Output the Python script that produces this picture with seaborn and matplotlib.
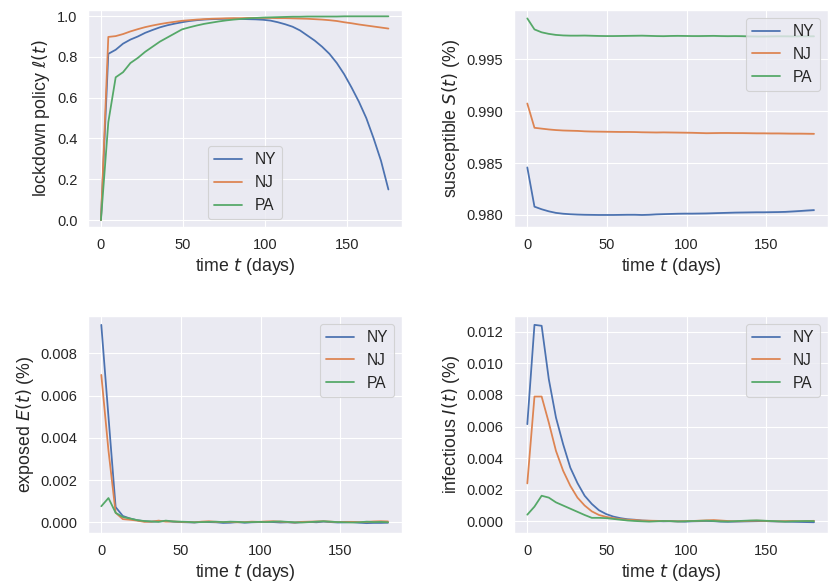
import matplotlib
matplotlib.use("Agg")
import matplotlib.pyplot as plt
import seaborn as sns
import pandas as pd

# ---------------- data ----------------
states = ["NY", "NJ", "PA"]

t_policy = [0, 4.5, 9, 13.5, 18, 22.5, 27, 31.5, 36, 40.5, 45, 49.5, 54, 58.5, 63,
            67.5, 72, 76.5, 81, 85.5, 90, 94.5, 99, 103.5, 108, 112.5, 117, 121.5,
            126, 130.5, 135, 139.5, 144, 148.5, 153, 157.5, 162, 166.5, 171, 175.5]

t_state = [0, 4.5, 9, 13.5, 18, 22.5, 27, 31.5, 36, 40.5, 45, 49.5, 54, 58.5, 63,
           67.5, 72, 76.5, 81, 85.5, 90, 94.5, 99, 103.5, 108, 112.5, 117, 121.5,
           126, 130.5, 135, 139.5, 144, 148.5, 153, 157.5, 162, 166.5, 171, 175.5, 180]

policy_NY = [0.0, 0.815, 0.835, 0.865, 0.885, 0.90, 0.918, 0.932, 0.945, 0.955, 0.963,
             0.970, 0.976, 0.980, 0.983, 0.985, 0.986, 0.987, 0.987, 0.986, 0.985, 0.984,
             0.982, 0.978, 0.970, 0.960, 0.948, 0.930, 0.905, 0.880, 0.850, 0.815, 0.770,
             0.715, 0.650, 0.580, 0.500, 0.400, 0.290, 0.150]
policy_NJ = [0.0, 0.898, 0.902, 0.912, 0.925, 0.936, 0.946, 0.954, 0.961, 0.967, 0.972,
             0.977, 0.980, 0.983, 0.985, 0.987, 0.988, 0.989, 0.990, 0.990, 0.991, 0.991,
             0.991, 0.991, 0.990, 0.990, 0.989, 0.988, 0.987, 0.985, 0.983, 0.980, 0.976,
             0.970, 0.965, 0.959, 0.954, 0.949, 0.944, 0.939]
policy_PA = [0.0, 0.48, 0.70, 0.725, 0.77, 0.795, 0.825, 0.85, 0.875, 0.895, 0.915,
             0.935, 0.945, 0.954, 0.962, 0.968, 0.974, 0.979, 0.983, 0.986, 0.989, 0.991,
             0.993, 0.994, 0.995, 0.996, 0.997, 0.997, 0.998, 0.998, 0.998, 0.998, 0.998,
             0.999, 0.999, 0.999, 0.999, 0.999, 0.999, 0.999]

S_NY = [0.98458, 0.98080, 0.98055, 0.98035, 0.98020, 0.98012, 0.98007, 0.98004, 0.98002,
        0.98001, 0.98000, 0.98000, 0.98000, 0.98001, 0.98002, 0.98002, 0.98000, 0.98002,
        0.98006, 0.98008, 0.98010, 0.98012, 0.98013, 0.98013, 0.98014, 0.98015, 0.98017,
        0.98019, 0.98021, 0.98023, 0.98024, 0.98025, 0.98026, 0.98026, 0.98027, 0.98028,
        0.98030, 0.98034, 0.98038, 0.98043, 0.98047]
S_NJ = [0.99074, 0.98840, 0.98832, 0.98824, 0.98818, 0.98814, 0.98812, 0.98810, 0.98806,
        0.98804, 0.98803, 0.98802, 0.98801, 0.98800, 0.98800, 0.98799, 0.98797, 0.98796,
        0.98795, 0.98796, 0.98795, 0.98794, 0.98793, 0.98792, 0.98790, 0.98788, 0.98789,
        0.98790, 0.98790, 0.98789, 0.98789, 0.98788, 0.98787, 0.98787, 0.98786, 0.98786,
        0.98785, 0.98784, 0.98784, 0.98783, 0.98782]
S_PA = [0.99894, 0.99788, 0.99760, 0.99745, 0.99735, 0.99730, 0.99728, 0.99728, 0.99729,
        0.99727, 0.99725, 0.99724, 0.99724, 0.99725, 0.99726, 0.99727, 0.99728, 0.99726,
        0.99724, 0.99723, 0.99725, 0.99726, 0.99725, 0.99724, 0.99724, 0.99725, 0.99726,
        0.99724, 0.99723, 0.99724, 0.99723, 0.99721, 0.99720, 0.99720, 0.99721, 0.99722,
        0.99722, 0.99721, 0.99722, 0.99722, 0.99722]
S_band = [0.0, 0.00001, 0.00001, 0.00001, 0.00002, 0.00002, 0.00002, 0.00002, 0.00003,
          0.00003, 0.00003, 0.00003, 0.00003, 0.00004, 0.00004, 0.00004, 0.00004, 0.00004,
          0.00005, 0.00005, 0.00005, 0.00005, 0.00005, 0.00005, 0.00006, 0.00006, 0.00006,
          0.00006, 0.00006, 0.00006, 0.00007, 0.00007, 0.00007, 0.00007, 0.00007, 0.00007,
          0.00008, 0.00008, 0.00008, 0.00008, 0.00008]

E_NY = [0.00935, 0.00500, 0.00072, 0.00030, 0.00018, 0.00010, 0.00005, 0.00003, 0.00004,
        0.00006, 0.00003, 0.00001, 0.00000, -0.00001, 0.00002, 0.00001, 0.00000, -0.00003,
        -0.00002, 0.00001, -0.00002, 0.00000, 0.00001, 0.00002, 0.00001, -0.00001, 0.00000,
        -0.00002, 0.00001, 0.00002, 0.00000, 0.00003, 0.00001, -0.00001, 0.00000, 0.00001,
        -0.00002, -0.00004, -0.00003, -0.00003, -0.00002]
E_NJ = [0.00698, 0.00340, 0.00045, 0.00015, 0.00012, 0.00008, 0.00002, 0.00003, 0.00008,
        0.00003, 0.00004, 0.00002, 0.00001, 0.00000, 0.00003, 0.00005, 0.00002, 0.00001,
        0.00002, 0.00000, 0.00001, 0.00003, 0.00002, 0.00004, 0.00005, 0.00003, 0.00001,
        -0.00001, 0.00002, 0.00003, 0.00004, 0.00005, 0.00003, 0.00001, 0.00002, 0.00002,
        0.00001, 0.00002, 0.00004, 0.00005, 0.00004]
E_PA = [0.00076, 0.00115, 0.00045, 0.00025, 0.00018, 0.00010, 0.00006, 0.00004, 0.00002,
        0.00008, 0.00004, 0.00003, 0.00002, 0.00000, 0.00001, 0.00002, 0.00003, 0.00001,
        0.00003, 0.00002, 0.00000, 0.00001, 0.00002, 0.00001, 0.00003, 0.00004, 0.00002,
        0.00000, -0.00001, 0.00001, 0.00003, 0.00005, 0.00003, 0.00001, 0.00000, -0.00001,
        0.00000, 0.00003, 0.00001, 0.00002, 0.00000]

I_NY = [0.00615, 0.01244, 0.01238, 0.00900, 0.00657, 0.00488, 0.00340, 0.00242, 0.00162,
        0.00110, 0.00070, 0.00046, 0.00030, 0.00020, 0.00013, 0.00010, 0.00005, 0.00003,
        0.00002, 0.00000, 0.00001, -0.00001, -0.00002, 0.00000, 0.00001, 0.00002, 0.00001,
        -0.00002, -0.00003, -0.00002, -0.00001, 0.00000, 0.00001, 0.00002, 0.00000,
        -0.00001, -0.00002, -0.00003, -0.00004, -0.00005, -0.00006]
I_NJ = [0.00240, 0.00790, 0.00790, 0.00625, 0.00446, 0.00320, 0.00225, 0.00150, 0.00100,
        0.00063, 0.00040, 0.00028, 0.00020, 0.00014, 0.00010, 0.00008, 0.00005, 0.00004,
        0.00003, 0.00002, 0.00001, 0.00000, 0.00001, 0.00002, 0.00004, 0.00006, 0.00008,
        0.00005, 0.00002, 0.00000, 0.00001, 0.00003, 0.00004, 0.00003, 0.00001, 0.00000,
        0.00001, 0.00002, 0.00001, 0.00002, 0.00003]
I_PA = [0.00042, 0.00093, 0.00162, 0.00150, 0.00120, 0.00100, 0.00080, 0.00060, 0.00040,
        0.00022, 0.00022, 0.00020, 0.00015, 0.00010, 0.00005, 0.00002, 0.00000, -0.00002,
        0.00000, 0.00002, 0.00001, -0.00001, 0.00000, 0.00002, 0.00003, 0.00004, 0.00002,
        0.00000, -0.00001, 0.00001, 0.00003, 0.00005, 0.00006, 0.00004, 0.00002, 0.00000,
        -0.00002, 0.00000, 0.00001, 0.00002, 0.00001]

# ---------------- plotting ----------------
sns.set_theme(style="darkgrid")
plt.rcParams["font.family"] = ["Liberation Sans", "DejaVu Sans"]
plt.rcParams["mathtext.fontset"] = "dejavusans"
colors = sns.color_palette("deep")[:3]

DPI = 80
fig = plt.figure(figsize=(828 / DPI, 588 / DPI), dpi=DPI)

W, H = 828.0, 588.0
def axes_px(left, top, right, bottom):
    return fig.add_axes([left / W, 1 - bottom / H, (right - left) / W, (bottom - top) / H])

ax_l = axes_px(88, 10, 402, 227)
ax_s = axes_px(514, 10, 828, 227)
ax_e = axes_px(88, 316, 402, 533)
ax_i = axes_px(514, 316, 828, 533)

LW = 1.6
LABEL_FS = 16
TICK_FS = 13.2
LEG_FS = 14

def draw(ax, t, series, band=None):
    for name, vals, c in zip(states, series, colors):
        sns.lineplot(x=t, y=vals, ax=ax, color=c, lw=LW, label=name)
        if band is not None:
            lo = [v - b for v, b in zip(vals, band)]
            hi = [v + b for v, b in zip(vals, band)]
            ax.fill_between(t, lo, hi, color=c, alpha=0.2, lw=0)

draw(ax_l, t_policy, [policy_NY, policy_NJ, policy_PA])
draw(ax_s, t_state, [S_NY, S_NJ, S_PA], band=S_band)
draw(ax_e, t_state, [E_NY, E_NJ, E_PA])
draw(ax_i, t_state, [I_NY, I_NJ, I_PA])

ax_l.set_ylabel(r"lockdown policy $\ell(t)$", fontsize=LABEL_FS)
ax_s.set_ylabel(r"susceptible $S(t)$ (%)", fontsize=LABEL_FS)
ax_e.set_ylabel(r"exposed $E(t)$ (%)", fontsize=LABEL_FS)
ax_i.set_ylabel(r"infectious $I(t)$ (%)", fontsize=LABEL_FS)

ax_l.set_xlim(-7.9, 183.8)
ax_l.set_ylim(-0.034, 1.03)
ax_l.set_yticks([0.0, 0.2, 0.4, 0.6, 0.8, 1.0])

ax_s.set_xlim(-8.35, 188.8)
ax_s.set_ylim(0.97884, 0.99975)
ax_s.set_yticks([0.980, 0.985, 0.990, 0.995])

ax_e.set_xlim(-8.35, 188.8)
ax_e.set_ylim(-0.000507, 0.00977)
ax_e.set_yticks([0.000, 0.002, 0.004, 0.006, 0.008])

ax_i.set_xlim(-8.35, 188.8)
ax_i.set_ylim(-0.00074, 0.0130)
ax_i.set_yticks([0.000, 0.002, 0.004, 0.006, 0.008, 0.010, 0.012])

for ax in (ax_l, ax_s, ax_e, ax_i):
    ax.set_xticks([0, 50, 100, 150])
    ax.set_xlabel(r"time $t$ (days)", fontsize=LABEL_FS)
    ax.tick_params(labelsize=TICK_FS)

leg_kw = dict(fontsize=LEG_FS, handlelength=1.8)
ax_l.legend(loc="lower center", **leg_kw)
ax_s.legend(loc="upper right", **leg_kw)
ax_e.legend(loc="upper right", **leg_kw)
ax_i.legend(loc="upper right", **leg_kw)

fig.savefig("out.png", dpi=DPI)
